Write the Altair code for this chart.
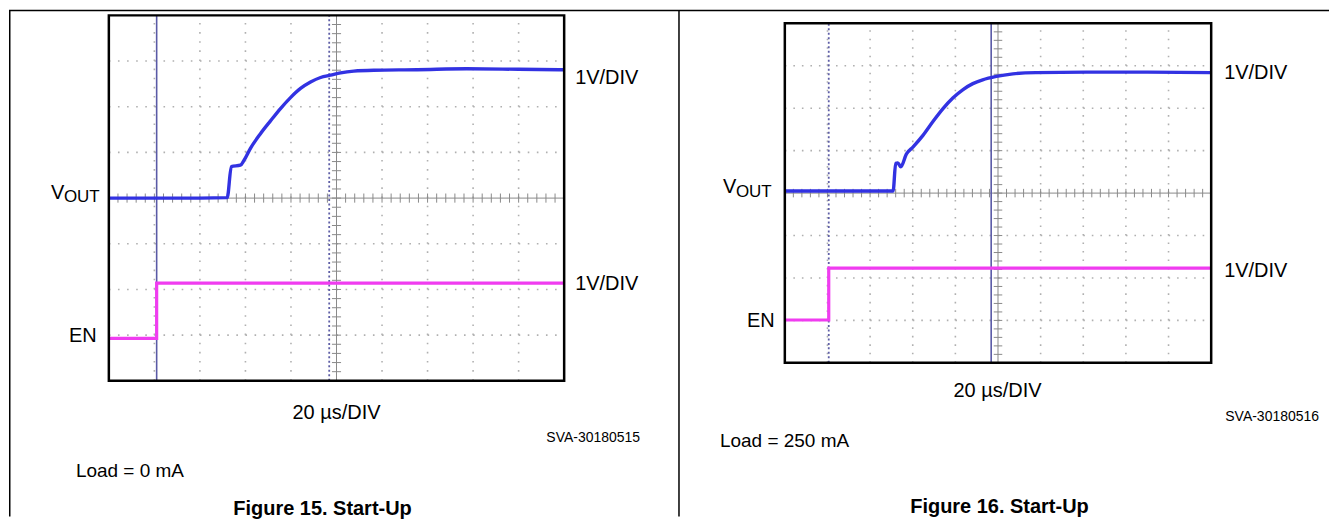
import altair as alt
import pandas as pd

# ---------------- data (scope divisions: 10 horizontal x 8 vertical) ----------------
# Figure 15, Load = 0 mA
L_VOUT_T = [0.0, 1.0, 2.0, 2.60, 2.69, 2.89, 2.97, 3.11, 3.33, 3.55, 3.77, 3.99, 4.21,
            4.43, 4.65, 4.87, 5.09, 5.38, 5.82, 6.77, 7.86, 9.0, 10.0]
L_VOUT_V = [4.0, 4.0, 4.0, 4.01, 4.69, 4.72, 4.83, 5.09, 5.41, 5.69, 5.96, 6.20, 6.40,
            6.54, 6.64, 6.69, 6.74, 6.78, 6.80, 6.81, 6.83, 6.82, 6.81]
L_EN_T = [0.0, 1.05, 1.05, 10.0]
L_EN_V = [0.93, 0.93, 2.14, 2.14]
L_SOLID_CURSOR = 1.05
L_DOTTED_CURSOR = 4.84

# Figure 16, Load = 250 mA
R_VOUT_T = [0.0, 1.0, 2.0, 2.54, 2.60, 2.65, 2.72, 2.85, 3.01, 3.24, 3.47, 3.71, 3.94,
            4.18, 4.41, 4.64, 4.96, 5.35, 5.89, 7.07, 8.5, 10.0]
R_VOUT_V = [4.05, 4.05, 4.05, 4.05, 4.70, 4.71, 4.62, 4.92, 5.09, 5.36, 5.68, 5.99, 6.24,
            6.44, 6.58, 6.67, 6.75, 6.81, 6.84, 6.85, 6.85, 6.84]
R_EN_T = [0.0, 1.03, 1.03, 10.0]
R_EN_V = [1.01, 1.01, 2.23, 2.23]
R_SOLID_CURSOR = 4.84
R_DOTTED_CURSOR = 1.03

GRID_T = [1, 2, 3, 4, 6, 7, 8, 9]
GRID_V = [1, 2, 3, 5, 6, 7]
MINOR_T = [k / 5 for k in range(1, 50)]
MINOR_V = [k / 5 for k in range(1, 40)]

FONT = "Liberation Sans, Arial, Helvetica, sans-serif"
NARROW = "Liberation Sans Narrow, Arial Narrow, Liberation Sans, sans-serif"

PANEL_H = 509


def scope_panel(vout_t, vout_v, en_t, en_v, solid_c, dotted_c, width,
                box_left, box_top, div_w, div_h, texts, border_x):
    box_bottom = box_top + 8 * div_h
    xs = alt.Scale(domain=[-box_left / div_w, (width - box_left) / div_w], nice=False, zero=False)
    ys = alt.Scale(domain=[-(PANEL_H - box_bottom) / div_h, box_bottom / div_h], nice=False, zero=False)

    def X(f):
        return alt.X(f, type="quantitative", scale=xs, axis=None)

    def Y(f):
        return alt.Y(f, type="quantitative", scale=ys, axis=None)

    vgrid = pd.DataFrame({"t": GRID_T, "v0": 0.0, "v1": 8.0})
    hgrid = pd.DataFrame({"v": GRID_V, "t0": 0.0, "t1": 10.0})
    vaxis = pd.DataFrame({"t": [5.0], "v0": [0.0], "v1": [8.0]})
    haxis = pd.DataFrame({"v": [4.0], "t0": [0.0], "t1": [10.0]})
    hticks = pd.DataFrame({"t": MINOR_T, "v0": 3.9, "v1": 4.1})
    vticks = pd.DataFrame({"v": MINOR_V, "t0": 4.9, "t1": 5.1})
    solid = pd.DataFrame({"t": [solid_c], "v0": [0.0], "v1": [8.0]})
    dotted = pd.DataFrame({"t": [dotted_c], "v0": [0.0], "v1": [8.0]})
    en = pd.DataFrame({"t": en_t, "v": en_v, "i": list(range(len(en_t)))})
    vout = pd.DataFrame({"t": vout_t, "v": vout_v, "i": list(range(len(vout_t)))})
    box = pd.DataFrame({"t0": [0.0], "t1": [10.0], "v0": [0.0], "v1": [8.0]})

    layers = [
        alt.Chart(vgrid).mark_rule(color="#b0b0b0", strokeWidth=1.6,
                                   strokeDash=[1.6, div_h / 5 - 1.6]).encode(
            x=X("t"), y=Y("v0"), y2="v1"),
        alt.Chart(hgrid).mark_rule(color="#b0b0b0", strokeWidth=1.6,
                                   strokeDash=[1.6, div_w / 5 - 1.6]).encode(
            y=Y("v"), x=X("t0"), x2="t1"),
        alt.Chart(vaxis).mark_rule(color="#8a8a8a", strokeWidth=1).encode(
            x=X("t"), y=Y("v0"), y2="v1"),
        alt.Chart(haxis).mark_rule(color="#8a8a8a", strokeWidth=1).encode(
            y=Y("v"), x=X("t0"), x2="t1"),
        alt.Chart(hticks).mark_rule(color="#8a8a8a", strokeWidth=1).encode(
            x=X("t"), y=Y("v0"), y2="v1"),
        alt.Chart(vticks).mark_rule(color="#8a8a8a", strokeWidth=1).encode(
            y=Y("v"), x=X("t0"), x2="t1"),
        alt.Chart(dotted).mark_rule(color="#5e5ea6", strokeWidth=1.8,
                                    strokeDash=[2, 2.5]).encode(
            x=X("t"), y=Y("v0"), y2="v1"),
        alt.Chart(solid).mark_rule(color="#5a5aa6", strokeWidth=1.6).encode(
            x=X("t"), y=Y("v0"), y2="v1"),
        alt.Chart(en).mark_line(color="#f03cf0", strokeWidth=3.2).encode(
            x=X("t"), y=Y("v"), order="i:Q"),
        alt.Chart(vout).mark_line(color="#3232e2", strokeWidth=3.4,
                                  interpolate="monotone").encode(
            x=X("t"), y=Y("v"), order="i:Q"),
        alt.Chart(box).mark_rect(fillOpacity=0, stroke="black", strokeWidth=2.5).encode(
            x=X("t0"), x2="t1", y=Y("v0"), y2="v1"),
    ]

    one = alt.Data(values=[{"k": 1}])
    # page frame of the datasheet
    layers.append(alt.Chart(one).mark_rule(color="black", strokeWidth=1.5).encode(
        x=alt.value(0), x2=alt.value(width), y=alt.value(2)))
    layers.append(alt.Chart(one).mark_rule(color="black", strokeWidth=1.5).encode(
        x=alt.value(border_x), y=alt.value(2), y2=alt.value(PANEL_H)))

    for t in texts:
        layers.append(alt.Chart(one).mark_text(
            align=t.get("align", "left"), baseline="alphabetic",
            fontSize=t["size"], font=t.get("font", FONT),
            fontWeight=t.get("weight", "normal"), color="black").encode(
            x=alt.value(t["x"]), y=alt.value(t["y"]), text=alt.value(t["text"])))

    return alt.layer(*layers).properties(width=width, height=PANEL_H)


left_texts = [
    {"text": "V", "x": 42, "y": 191, "size": 20},
    {"text": "OUT", "x": 55, "y": 194, "size": 17},
    {"text": "EN", "x": 60, "y": 334, "size": 20},
    {"text": "1V/DIV", "x": 567, "y": 76, "size": 20},
    {"text": "1V/DIV", "x": 567, "y": 282, "size": 20},
    {"text": "20 µs/DIV", "x": 328, "y": 411, "size": 20, "align": "center"},
    {"text": "SVA-30180515", "x": 632, "y": 434, "size": 14, "align": "right", "font": NARROW},
    {"text": "Load = 0 mA", "x": 67, "y": 469, "size": 19},
    {"text": "Figure 15. Start-Up", "x": 314, "y": 507, "size": 20, "align": "center", "weight": "bold"},
]

right_texts = [
    {"text": "V", "x": 44, "y": 185, "size": 20},
    {"text": "OUT", "x": 57, "y": 189, "size": 17},
    {"text": "EN", "x": 68, "y": 319, "size": 20},
    {"text": "1V/DIV", "x": 546, "y": 71, "size": 20},
    {"text": "1V/DIV", "x": 546, "y": 269, "size": 20},
    {"text": "20 µs/DIV", "x": 319, "y": 389, "size": 20, "align": "center"},
    {"text": "SVA-30180516", "x": 641, "y": 413, "size": 14, "align": "right", "font": NARROW},
    {"text": "Load = 250 mA", "x": 41, "y": 439, "size": 19},
    {"text": "Figure 16. Start-Up", "x": 321, "y": 505, "size": 20, "align": "center",
     "weight": "bold"},
]

left = scope_panel(L_VOUT_T, L_VOUT_V, L_EN_T, L_EN_V, L_SOLID_CURSOR, L_DOTTED_CURSOR,
                   671, 100, 7, 45.6, 45.75, left_texts, 0.75)
right = scope_panel(R_VOUT_T, R_VOUT_V, R_EN_T, R_EN_V, R_SOLID_CURSOR, R_DOTTED_CURSOR,
                    651, 106, 15, 42.7, 42.5, right_texts, 0)

chart = alt.hconcat(left, right, spacing=0, bounds="flush").properties(
    padding=0).configure_view(stroke=None)

chart.save("out.html", embed_options={"renderer": "svg", "actions": False})
